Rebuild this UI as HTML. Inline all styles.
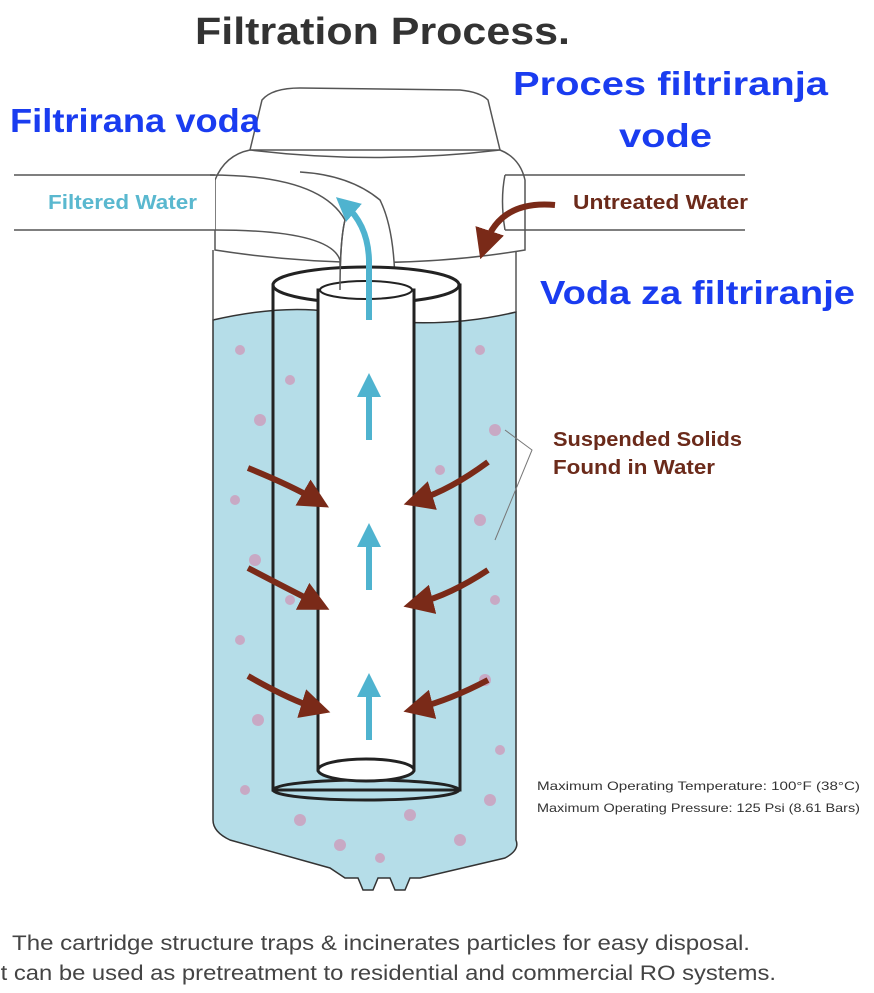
<!DOCTYPE html>
<html><head><style>body{margin:0;background:#fff}svg{display:block}</style></head><body>
<svg width="874" height="993" viewBox="0 0 874 993" xmlns="http://www.w3.org/2000/svg" font-family="Liberation Sans, sans-serif">
<defs>
<marker id="br" markerWidth="5" markerHeight="5" refX="2.5" refY="2.5" orient="auto"><path d="M0,0 L5,2.5 L0,5 z" fill="#7a2a18"/></marker>
<marker id="bl" markerWidth="4" markerHeight="4" refX="2" refY="2" orient="auto"><path d="M0,0 L4,2 L0,4 z" fill="#4fb3cf"/></marker>
</defs>
<text x="195" y="44" font-size="38" font-weight="bold" fill="#333" textLength="375" lengthAdjust="spacingAndGlyphs">Filtration Process.</text>
<!-- water bowl -->
<path d="M213,320 Q300,300 360,318 Q440,330 516,312 L516,840 Q520,850 505,858 L420,878 L410,878 L405,890 L395,890 L390,878 L378,878 L373,890 L363,890 L358,878 L345,878 L330,868 L230,840 Q213,832 213,820 Z" fill="#b5dde8" stroke="#333" stroke-width="1.5"/>
<line x1="213" y1="250" x2="213" y2="320" stroke="#555" stroke-width="1.5"/>
<line x1="516" y1="250" x2="516" y2="312" stroke="#555" stroke-width="1.5"/>
<g fill="#c8a9c4">
<circle cx="240" cy="350" r="5"/><circle cx="260" cy="420" r="6"/><circle cx="235" cy="500" r="5"/><circle cx="255" cy="560" r="6"/><circle cx="240" cy="640" r="5"/><circle cx="258" cy="720" r="6"/><circle cx="245" cy="790" r="5"/><circle cx="300" cy="820" r="6"/><circle cx="340" cy="845" r="6"/><circle cx="410" cy="815" r="6"/><circle cx="460" cy="840" r="6"/><circle cx="490" cy="800" r="6"/><circle cx="480" cy="350" r="5"/><circle cx="495" cy="430" r="6"/><circle cx="480" cy="520" r="6"/><circle cx="495" cy="600" r="5"/><circle cx="485" cy="680" r="6"/><circle cx="500" cy="750" r="5"/><circle cx="380" cy="858" r="5"/><circle cx="290" cy="380" r="5"/><circle cx="440" cy="470" r="5"/><circle cx="290" cy="600" r="5"/>
</g>
<!-- cap -->
<path d="M250,150 L262,100 Q272,88 300,88 L460,90 Q480,92 488,100 L500,150 Z" fill="#fff" stroke="#555" stroke-width="1.5"/>
<path d="M215,250 L215,180 Q225,155 250,150 Q375,165 500,150 Q520,158 525,180 L525,250 Q375,275 215,250 Z" fill="#fff" stroke="#555" stroke-width="1.5"/>
<rect x="0" y="175" width="215" height="55" fill="#fff"/>
<line x1="14" y1="175" x2="215" y2="175" stroke="#555" stroke-width="1.5"/>
<line x1="14" y1="230" x2="215" y2="230" stroke="#555" stroke-width="1.5"/>
<path d="M505,175 L745,175 M505,230 L745,230 M505,175 Q500,200 505,230" fill="none" stroke="#555" stroke-width="1.5"/>
<path d="M210,175 Q320,175 345,220 Q340,240 340,290 L395,290 Q395,230 380,200 Q350,175 300,172" fill="#fff" stroke="#555" stroke-width="1.5"/>
<path d="M215,230 Q330,230 340,260 L340,290" fill="none" stroke="#555" stroke-width="1.5"/>
<!-- cartridge -->
<rect x="273" y="285" width="187" height="505" fill="none" stroke="#222" stroke-width="3"/>
<ellipse cx="366" cy="790" rx="93" ry="10" fill="none" stroke="#222" stroke-width="3"/>
<ellipse cx="366" cy="285" rx="93" ry="18" fill="#fff" stroke="#222" stroke-width="3"/>
<rect x="318" y="290" width="96" height="480" fill="#fff" stroke="#222" stroke-width="3"/>
<ellipse cx="366" cy="770" rx="48" ry="11" fill="#fff" stroke="#222" stroke-width="3"/>
<ellipse cx="366" cy="290" rx="46" ry="9" fill="#fff" stroke="#222" stroke-width="2"/>
<path d="M340,290 Q340,240 345,220" fill="none" stroke="#555" stroke-width="1.5"/>
<path d="M369,320 L369,260 Q368,225 345,205" fill="none" stroke="#4fb3cf" stroke-width="6" marker-end="url(#bl)"/>
<g stroke="#4fb3cf" stroke-width="6" marker-end="url(#bl)">
<line x1="369" y1="440" x2="369" y2="385"/><line x1="369" y1="590" x2="369" y2="535"/><line x1="369" y1="740" x2="369" y2="685"/>
</g>
<g fill="none" stroke="#7a2a18" stroke-width="6" marker-end="url(#br)">
<path d="M555,205 Q500,200 485,245"/>
<path d="M248,468 Q290,485 316,500"/><path d="M248,568 Q290,590 316,603"/><path d="M248,676 Q290,700 316,708"/>
<path d="M488,462 Q450,490 418,500"/><path d="M488,570 Q450,595 418,603"/><path d="M488,680 Q450,700 418,708"/>
</g>
<path d="M505,430 L532,450 L495,540" fill="none" stroke="#777" stroke-width="1"/>
<text x="48" y="209" font-size="20" font-weight="bold" fill="#5ab8cf" textLength="149" lengthAdjust="spacingAndGlyphs">Filtered Water</text>
<text x="573" y="209" font-size="20" font-weight="bold" fill="#6b2a1a" textLength="175" lengthAdjust="spacingAndGlyphs">Untreated Water</text>
<text x="553" y="446" font-size="20" font-weight="bold" fill="#6b2a1a" textLength="189" lengthAdjust="spacingAndGlyphs">Suspended Solids</text>
<text x="553" y="474" font-size="20" font-weight="bold" fill="#6b2a1a" textLength="162" lengthAdjust="spacingAndGlyphs">Found in Water</text>
<text x="537" y="790" font-size="12" fill="#333" textLength="323" lengthAdjust="spacingAndGlyphs">Maximum Operating Temperature: 100°F (38°C)</text>
<text x="537" y="812" font-size="12" fill="#333" textLength="323" lengthAdjust="spacingAndGlyphs">Maximum Operating Pressure: 125 Psi (8.61 Bars)</text>
<g font-size="33" font-weight="bold" fill="#1a3cf0">
<text x="10" y="132" textLength="250" lengthAdjust="spacingAndGlyphs">Filtrirana voda</text>
<text x="513" y="95" textLength="315" lengthAdjust="spacingAndGlyphs">Proces filtriranja</text>
<text x="619" y="147" textLength="93" lengthAdjust="spacingAndGlyphs">vode</text>
<text x="540" y="304" textLength="315" lengthAdjust="spacingAndGlyphs">Voda za filtriranje</text>
</g>
<text x="12" y="950" font-size="21" fill="#444" textLength="738" lengthAdjust="spacingAndGlyphs">The cartridge structure traps &amp; incinerates particles for easy disposal.</text>
<text x="-6" y="980" font-size="21" fill="#444" textLength="782" lengthAdjust="spacingAndGlyphs">It can be used as pretreatment to residential and commercial RO systems.</text>
</svg>
</body></html>
